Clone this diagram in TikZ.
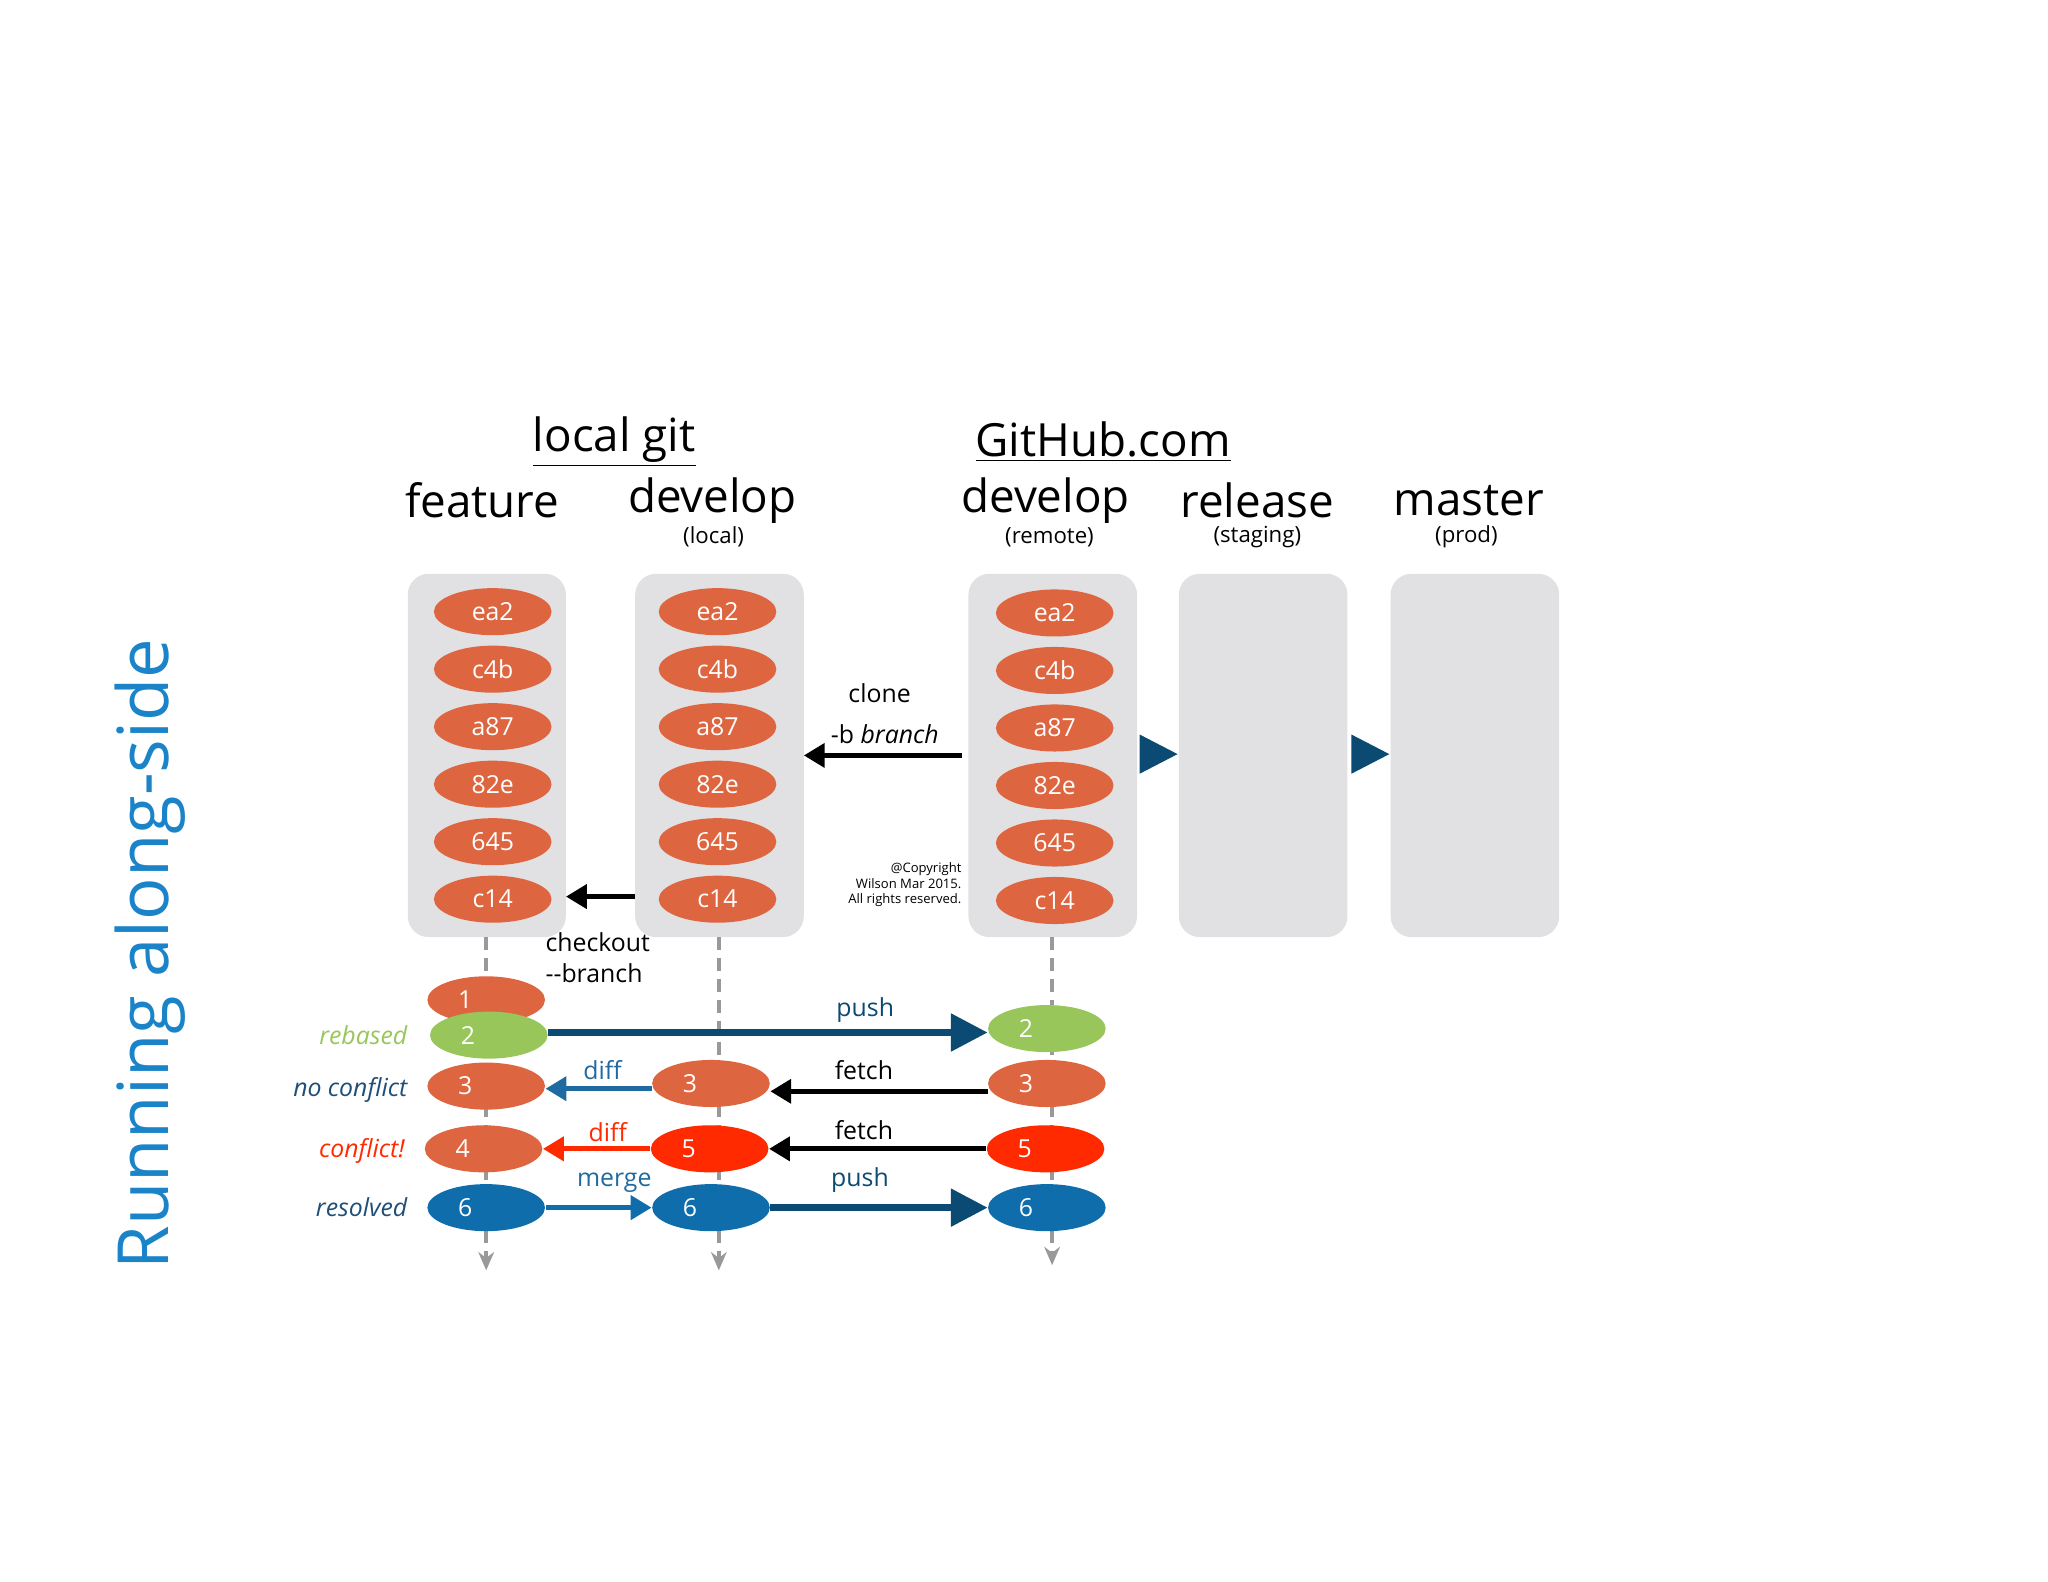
\documentclass[tikz,border=0pt]{standalone}
\usepackage{fontspec}
\setmainfont{Open Sans}
\usetikzlibrary{arrows.meta,shapes.geometric}
\definecolor{og}{HTML}{DD6641}
\definecolor{gr}{HTML}{98C65A}
\definecolor{rd}{HTML}{FF2A00}
\definecolor{bl}{HTML}{0E6DAA}
\definecolor{db}{HTML}{0B4A73}
\definecolor{mb}{HTML}{1F6AA0}
\definecolor{pn}{HTML}{E1E1E3}
\definecolor{lbc}{HTML}{1B84C9}
\definecolor{nb}{HTML}{1F4E79}
\begin{document}
\begin{tikzpicture}[x=0.5pt,y=-0.5pt,
  panel/.style={fill=pn,rounded corners=8pt},
  cmt/.style={ellipse,fill=og,minimum width=45pt,minimum height=18pt,inner sep=0pt,text=white,font=\fontsize{9.5}{12}\selectfont},
  nmt/.style={ellipse,minimum width=45pt,minimum height=18pt,inner sep=0pt,text=white,font=\fontsize{9.5}{12}\selectfont},
  hd/.style={font=\fontsize{17.5}{20}\selectfont,inner sep=0pt},
  sm/.style={font=\fontsize{9.5}{11}\selectfont,inner sep=0pt},
  sub/.style={font=\fontsize{8.5}{10}\selectfont,inner sep=0pt},
  sidel/.style={font=\fontsize{9.5}{12}\selectfont\itshape,inner sep=0pt,anchor=east},
  ar/.style={line width=2pt,-{Triangle[length=8pt,width=9pt]}},
  big/.style={line width=2.5pt,-{Triangle[length=14pt,width=14pt]}},
  dsh/.style={gray!80,line width=1.5pt,dash pattern=on 5pt off 3pt,-{Stealth[length=7pt,width=6pt]}}]
\useasboundingbox (0,0) rectangle (1567,1210);
% headings
\node[hd] (lg) at (470,338) {\underline{local git}};
\node[hd] (gh) at (844,338) {\underline{GitHub.com}};
\node[hd] (hf) at (369,383) {feature};
\node[hd] (hd1) at (545,383) {develop};
\node[sub] at (546,411) {(local)};
\node[hd] (hd2) at (800,383) {develop};
\node[sub] at (803,411) {(remote)};
\node[hd] (hr) at (962,383) {release};
\node[sub] at (962,411) {(staging)};
\node[hd] (hm) at (1124,383) {master};
\node[sub] at (1122,411) {(prod)};
% panels
\fill[panel] (312,439) rectangle (433,717);
\fill[panel] (486,439) rectangle (615,717);
\fill[panel] (741,439) rectangle (870,717);
\fill[panel] (902,439) rectangle (1031,717);
\fill[panel] (1064,439) rectangle (1193,717);
% dashed timelines
\coordinate (fa) at (372,717); \coordinate (fb) at (372,972);
\coordinate (la) at (550,717); \coordinate (lb) at (550,972);
\coordinate (ra) at (805,717); \coordinate (rb) at (805,968);
\draw[dsh] (fa) -- (fb);
\draw[dsh] (la) -- (lb);
\draw[dsh] (ra) -- (rb);
% commits
\foreach \t [count=\i] in {ea2,c4b,a87,82e,645,c14}{
  \node[cmt] (f\i) at (377,{424+44*\i}) {\t};
  \node[cmt] (l\i) at (549,{424+44*\i}) {\t};
  \node[cmt] (r\i) at (807,{425+44*\i}) {\t};
}
% panel arrows
\fill[db] (872,562) -- (901,577) -- (872,592) -- cycle;
\fill[db] (1034,562) -- (1063,577) -- (1034,592) -- cycle;
% clone
\coordinate (cs) at (736,578); \coordinate (ce) at (615,578);
\draw[ar,black] (cs) -- (ce);
\node[sm] at (673,530) {clone};
\node[sm] at (677,562) {-b \textit{branch}};
% checkout
\coordinate (ks) at (486,686); \coordinate (ke) at (433,686);
\draw[ar,black] (ks) -- (ke);
\node[font=\fontsize{9.5}{12}\selectfont,inner sep=0pt,align=left,anchor=north west] at (417,713) {checkout\\-{}-branch};
% copyright
\node[font=\fontsize{5}{6}\selectfont,align=right,anchor=east,inner sep=0pt] at (736,677) {@Copyright\\Wilson Mar 2015.\\All rights reserved.};
% lower commits
\node[nmt,fill=og] (n1) at (372,765) {1\hspace*{16pt}};
\node[nmt,fill=gr] (n2) at (374,792) {2\hspace*{16pt}};
\node[nmt,fill=og] (n3) at (372,831) {3\hspace*{16pt}};
\node[nmt,fill=og] (n4) at (370,879) {4\hspace*{16pt}};
\node[nmt,fill=bl] (n6) at (372,924) {6\hspace*{16pt}};
\node[nmt,fill=og] (m3) at (544,829) {3\hspace*{16pt}};
\node[nmt,fill=rd] (m5) at (543,879) {5\hspace*{16pt}};
\node[nmt,fill=bl] (m6) at (544,924) {6\hspace*{16pt}};
\node[nmt,fill=gr] (p2) at (801,787) {2\hspace*{16pt}};
\node[nmt,fill=og] (p3) at (801,829) {3\hspace*{16pt}};
\node[nmt,fill=rd] (p5) at (800,879) {5\hspace*{16pt}};
\node[nmt,fill=bl] (p6) at (801,924) {6\hspace*{16pt}};
% side labels
\node[sidel,text=gr] at (312,792) {rebased};
\node[sidel,text=nb] at (312,834) {no conflict};
\node[sidel,text=rd] at (310,881) {conflict!};
\node[sidel,text=nb] at (312,924) {resolved};
% flow arrows
\draw[big,db] (n2.east |- 0,790) -- (p2.west |- 0,790);
\node[sm,text=db] at (662,773) {push};
\draw[ar,mb] (m3.west |- 0,833) -- (n3.east |- 0,833);
\node[sm,text=mb] at (461,819) {diff};
\draw[ar,black] (p3.west |- 0,835) -- (m3.east |- 0,835);
\node[sm] at (661,819) {fetch};
\draw[ar,rd] (m5.west) -- (n4.east);
\node[sm,text=rd] at (465,866) {diff};
\draw[ar,black] (p5.west) -- (m5.east);
\node[sm] at (661,865) {fetch};
\draw[ar,bl] (n6.east) -- (m6.west);
\node[sm,text=mb] at (470,905) {merge};
\draw[big,db] (m6.east) -- (p6.west);
\node[sm,text=db] at (658,903) {push};
% side title
\node[rotate=90,text=lbc,font=\fontsize{27}{32}\selectfont,inner sep=0pt] (rt) at (115,730) {Running along-side};
\end{tikzpicture}
\end{document}
